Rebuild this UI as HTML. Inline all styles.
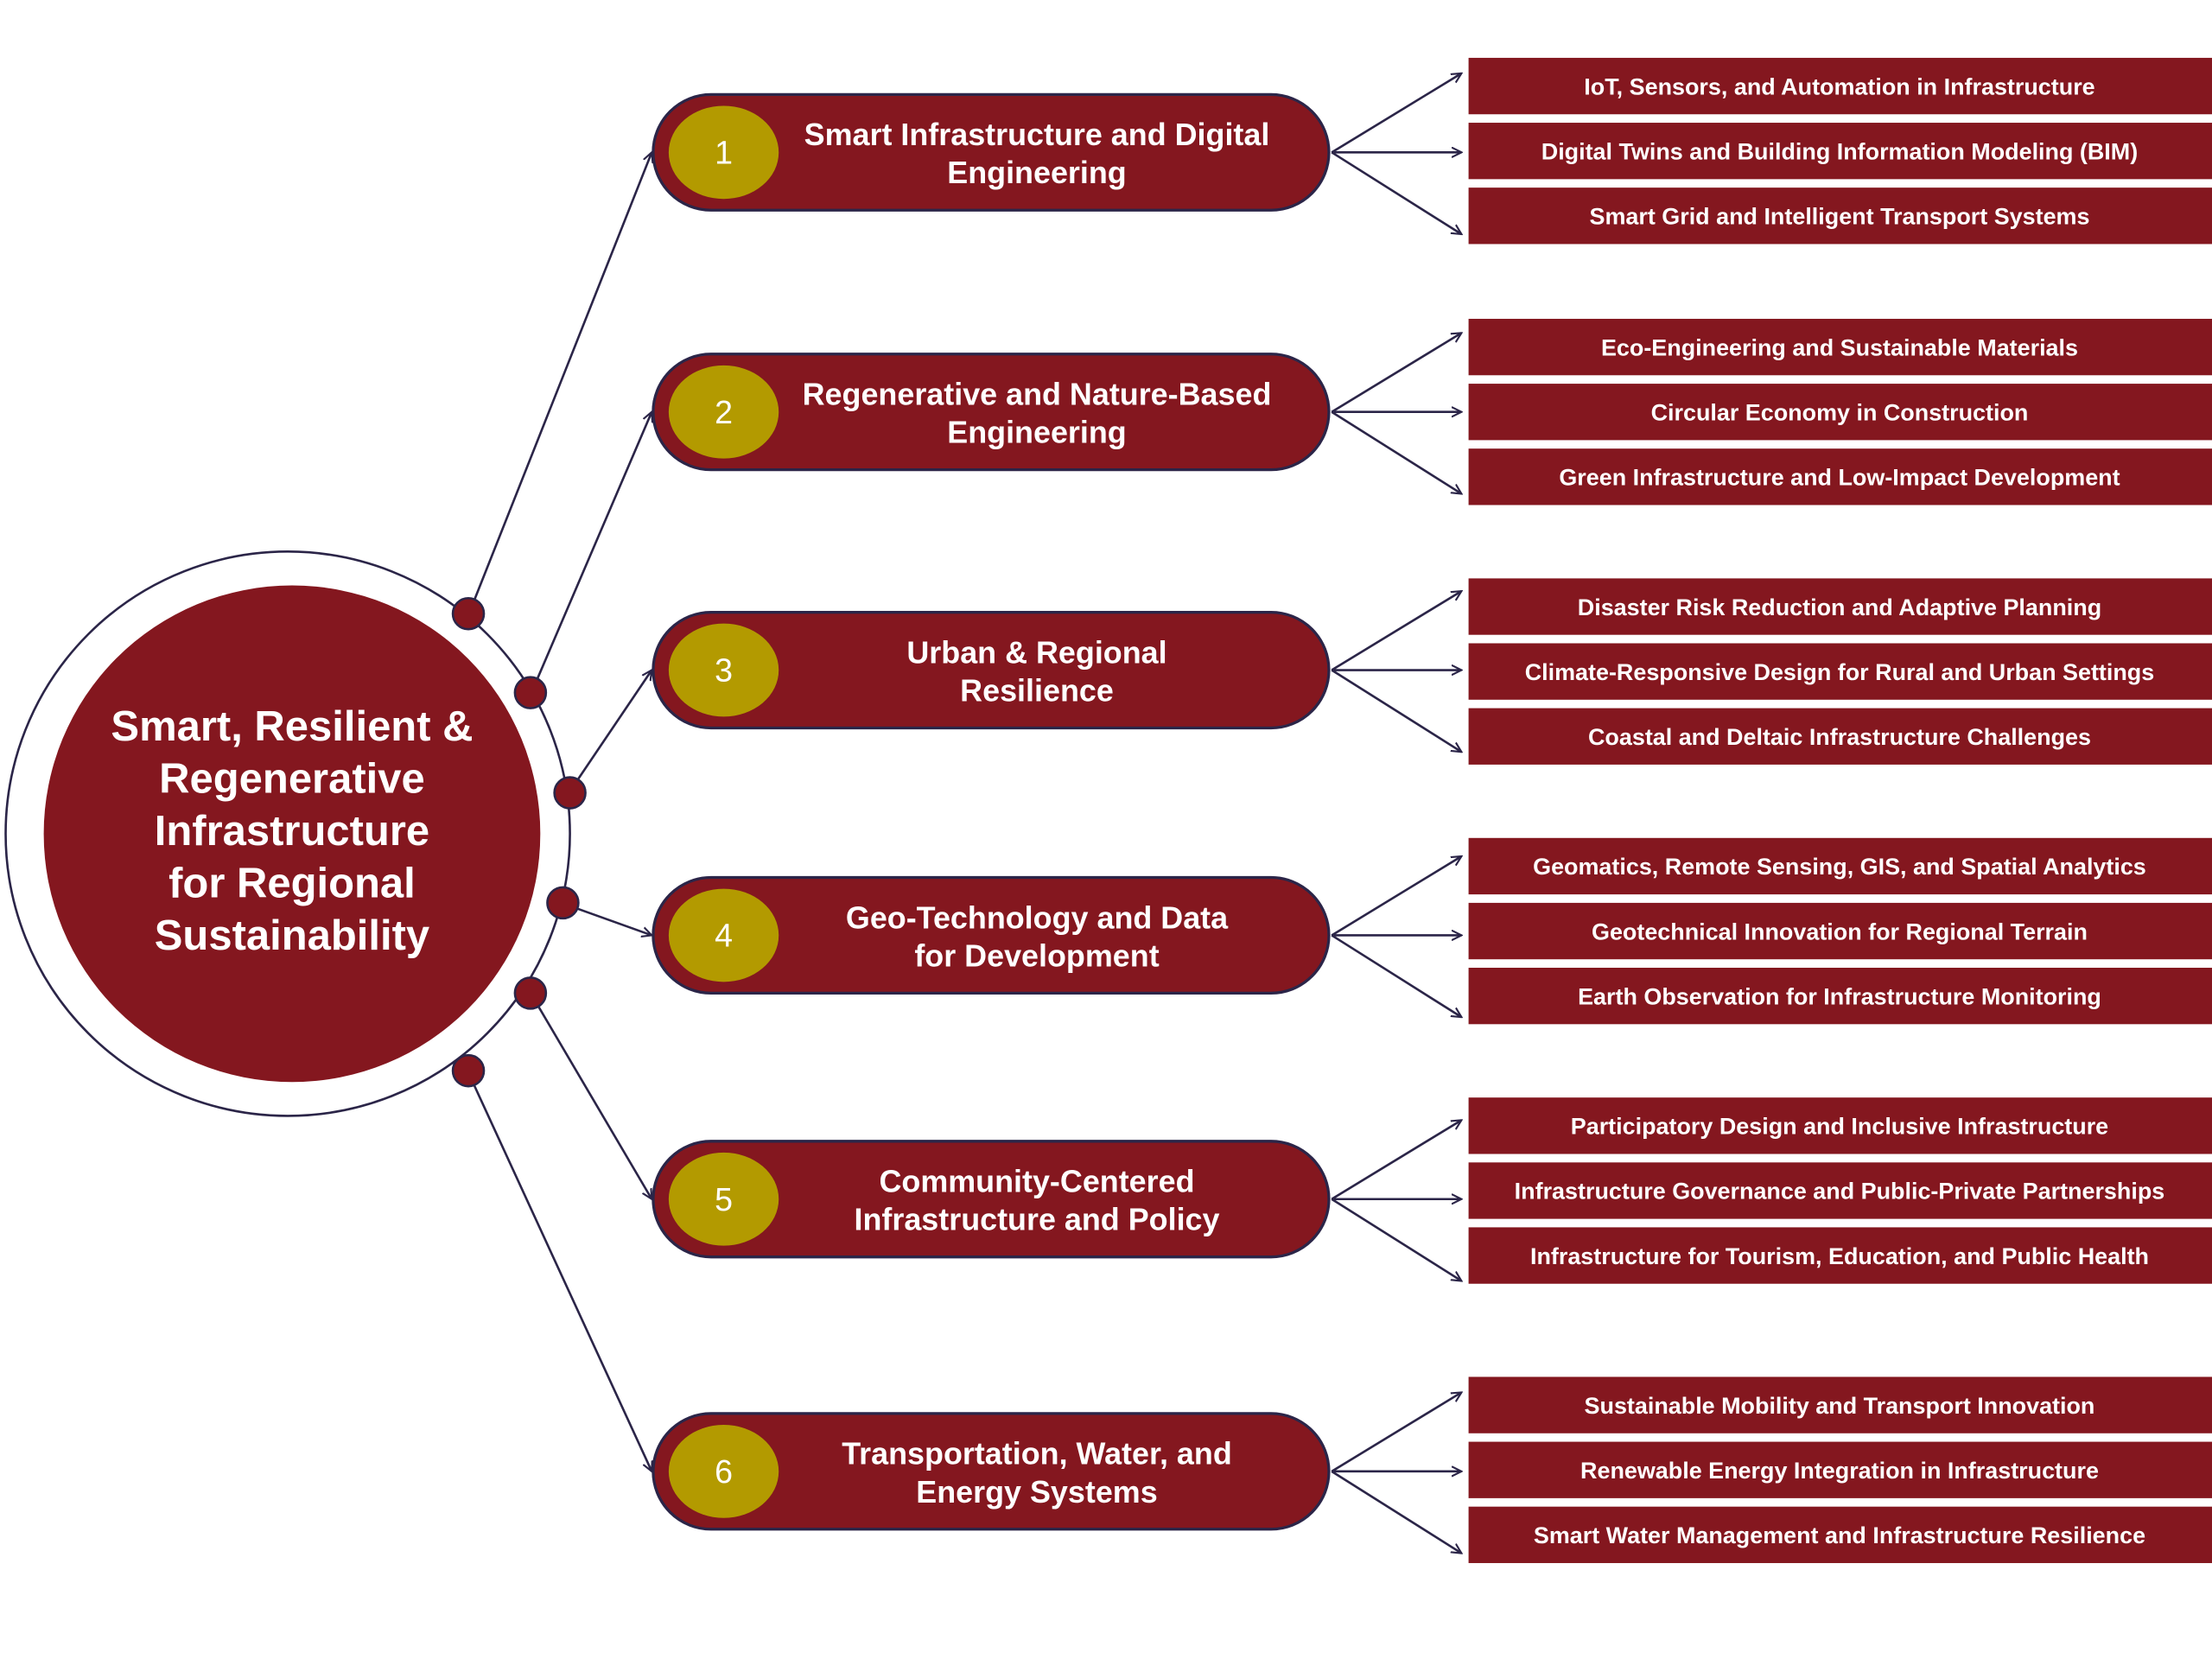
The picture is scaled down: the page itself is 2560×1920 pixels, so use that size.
<!DOCTYPE html>
<html><head><meta charset="utf-8"><style>
html,body{margin:0;padding:0;background:#fff;}
svg{display:block;}
text{font-family:"Liberation Sans",sans-serif;fill:#fff;text-anchor:middle;}
</style></head><body>
<svg width="2560" height="1920" viewBox="0 0 1568 1176" xmlns="http://www.w3.org/2000/svg">
<defs>
<marker id="ah" markerWidth="8" markerHeight="8" refX="7" refY="4" orient="auto" markerUnits="userSpaceOnUse">
<path d="M0,0.5 L7,4 L0,7.5" fill="none" stroke="#2b2548" stroke-width="1.3"/>
</marker>
</defs>
<g stroke="#2b2548" stroke-width="1.6" fill="none">
<circle cx="204" cy="591" r="200"/>
<line x1="336" y1="426" x2="462" y2="108" marker-end="url(#ah)"/>
<line x1="381" y1="481" x2="462" y2="292" marker-end="url(#ah)"/>
<line x1="410" y1="552" x2="462" y2="475" marker-end="url(#ah)"/>
<line x1="409" y1="644" x2="462" y2="663" marker-end="url(#ah)"/>
<line x1="382" y1="714" x2="462" y2="850" marker-end="url(#ah)"/>
<line x1="336" y1="769" x2="462" y2="1043" marker-end="url(#ah)"/>
</g>
<circle cx="207" cy="591" r="176" fill="#84171f"/>
<g fill="#84171f" stroke="#2b2548" stroke-width="1.6">
<circle cx="332" cy="435" r="11"/><circle cx="376" cy="491" r="11"/><circle cx="404" cy="562" r="11"/>
<circle cx="399" cy="640" r="11"/><circle cx="376" cy="704" r="11"/><circle cx="332" cy="759" r="11"/>
</g>
<g font-size="30" font-weight="bold">
<text x="207" y="525">Smart, Resilient &amp;</text>
<text x="207" y="562">Regenerative</text>
<text x="207" y="599">Infrastructure</text>
<text x="207" y="636">for Regional</text>
<text x="207" y="673">Sustainability</text>
</g>

<!-- groups -->
<g id="groups">
</g>
<script>
var G=[
[108,"Smart Infrastructure and Digital","Engineering",["IoT, Sensors, and Automation in Infrastructure","Digital Twins and Building Information Modeling (BIM)","Smart Grid and Intelligent Transport Systems"],[61,107,153]],
[292,"Regenerative and Nature-Based","Engineering",["Eco-Engineering and Sustainable Materials","Circular Economy in Construction","Green Infrastructure and Low-Impact Development"],[246,292,338]],
[475,"Urban & Regional","Resilience",["Disaster Risk Reduction and Adaptive Planning","Climate-Responsive Design for Rural and Urban Settings","Coastal and Deltaic Infrastructure Challenges"],[430,476,522]],
[663,"Geo-Technology and Data","for Development",["Geomatics, Remote Sensing, GIS, and Spatial Analytics","Geotechnical Innovation for Regional Terrain","Earth Observation for Infrastructure Monitoring"],[614,660,706]],
[850,"Community-Centered","Infrastructure and Policy",["Participatory Design and Inclusive Infrastructure","Infrastructure Governance and Public-Private Partnerships","Infrastructure for Tourism, Education, and Public Health"],[798,844,890]],
[1043,"Transportation, Water, and","Energy Systems",["Sustainable Mobility and Transport Innovation","Renewable Energy Integration in Infrastructure","Smart Water Management and Infrastructure Resilience"],[996,1042,1088]]
];
var NS="http://www.w3.org/2000/svg",g=document.getElementById("groups");
function el(t,a,txt){var e=document.createElementNS(NS,t);for(var k in a)e.setAttribute(k,a[k]);if(txt)e.textContent=txt;g.appendChild(e);return e;}
G.forEach(function(d,i){
 var y=d[0];
 el("rect",{x:463,y:y-41,width:479,height:82,rx:41,ry:41,fill:"#84171f",stroke:"#2b2548","stroke-width":2});
 el("ellipse",{cx:513,cy:y,rx:39,ry:33,fill:"#b39a00"});
 el("text",{x:513,y:y+8,"font-size":23},String(i+1));
 el("text",{x:735,y:y-5,"font-size":22,"font-weight":"bold"},d[1]);
 el("text",{x:735,y:y+22,"font-size":22,"font-weight":"bold"},d[2]);
 [-56,0,58].forEach(function(o){el("line",{x1:944,y1:y,x2:1036,y2:y+o,stroke:"#2b2548","stroke-width":1.6,"marker-end":"url(#ah)"});});
 d[4].forEach(function(by,j){
  el("rect",{x:1041,y:by-20,width:527,height:40,fill:"#84171f"});
  el("text",{x:1304,y:by+6,"font-size":16.5,"font-weight":"bold"},d[3][j]);
 });
});
</script>
</svg>
</body></html>
